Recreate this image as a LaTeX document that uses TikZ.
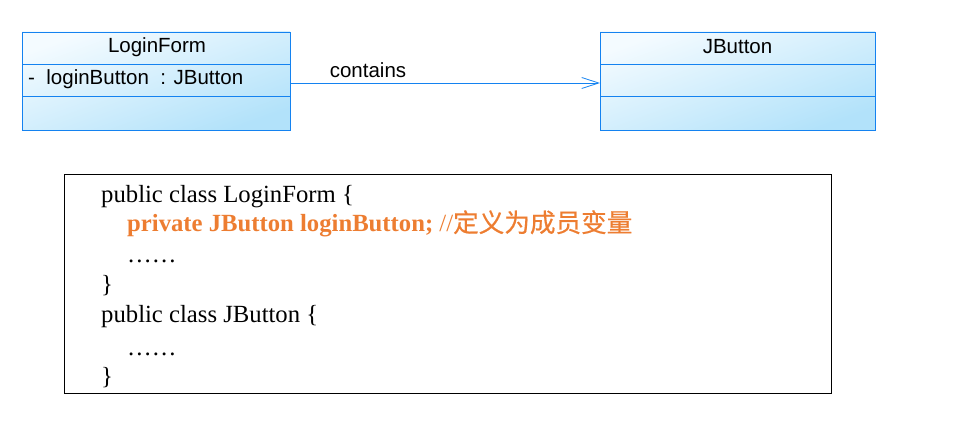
\documentclass[tikz,border=0pt]{standalone}
\usepackage{fontspec}
\setmainfont{Liberation Serif}
\newfontfamily\umlfont{Liberation Sans}
\newfontfamily\cjk{Noto Sans CJK SC}[FakeBold=0.6]
\usetikzlibrary{arrows.meta}
\definecolor{umlblue}{RGB}{20,130,240}
\definecolor{umltop}{RGB}{244,251,255}
\definecolor{umlbot}{RGB}{178,226,250}
\definecolor{codeorange}{RGB}{237,125,49}
\tikzset{
  x=1pt, y=-1pt,
  classbox/.style={draw=umlblue, line width=0.8pt, shading=axis, top color=umltop, bottom color=umlbot, shading angle=20},
  divider/.style={draw=umlblue, line width=0.8pt},
  umltext/.style={font=\umlfont\fontsize{20.5}{20.5}\selectfont, inner sep=0pt},
  codeline/.style={font=\fontsize{24.7}{24.7}\selectfont, inner sep=0pt, anchor=base west},
  assoc/.style={draw=umlblue, line width=0.8pt, -{Straight Barb[length=17pt,width=11pt,line width=0.8pt]}}
}
\begin{document}
\begin{tikzpicture}
\useasboundingbox (0,0) rectangle (971,427);
% LoginForm class
\path[classbox] (22,32) rectangle (290,130);
\node[inner sep=0pt] (lf) at (156,81) [minimum width=268pt, minimum height=98pt] {};
\draw[divider] (22,64) -- (290,64);
\draw[divider] (22,96) -- (290,96);
\node[umltext] (lfname) at (157,47) {LoginForm};
\node[umltext, anchor=west] (lfattr) at (28,79) {-\ \ loginButton\ \ : JButton};
% JButton class
\path[classbox] (600,32) rectangle (875,130);
\node[inner sep=0pt] (jb) at (737.5,81) [minimum width=275pt, minimum height=98pt] {};
\draw[divider] (600,64) -- (875,64);
\draw[divider] (600,96) -- (875,96);
\node[umltext] (jbname) at (737.5,47) {JButton};
% association
\coordinate (a1) at (290,83);
\coordinate (a2) at (600,83);
\draw[assoc] (a1) -- (a2);
\node[umltext] (lbl) at (368,70) {contains};
% code box
\node[draw=black, line width=0.8pt, minimum width=767pt, minimum height=219pt, inner sep=0pt] (code) at (447.5,283.5) {};
\node[codeline] (c1) at (101,203) {public class LoginForm \{};
\node[codeline, text=codeorange] (c2) at (127,232) {\textbf{private JButton loginButton;} //{\cjk\fontsize{25.6}{25.6}\selectfont 定义为成员变量}};
\node[codeline] (c3) at (127,263) {\ldots\ldots};
\node[codeline] (c4) at (101,293) {\}};
\node[codeline] (c5) at (101,323) {public class JButton \{};
\node[codeline] (c6) at (127,355) {\ldots\ldots};
\node[codeline] (c7) at (101,384) {\}};
\end{tikzpicture}
\end{document}
